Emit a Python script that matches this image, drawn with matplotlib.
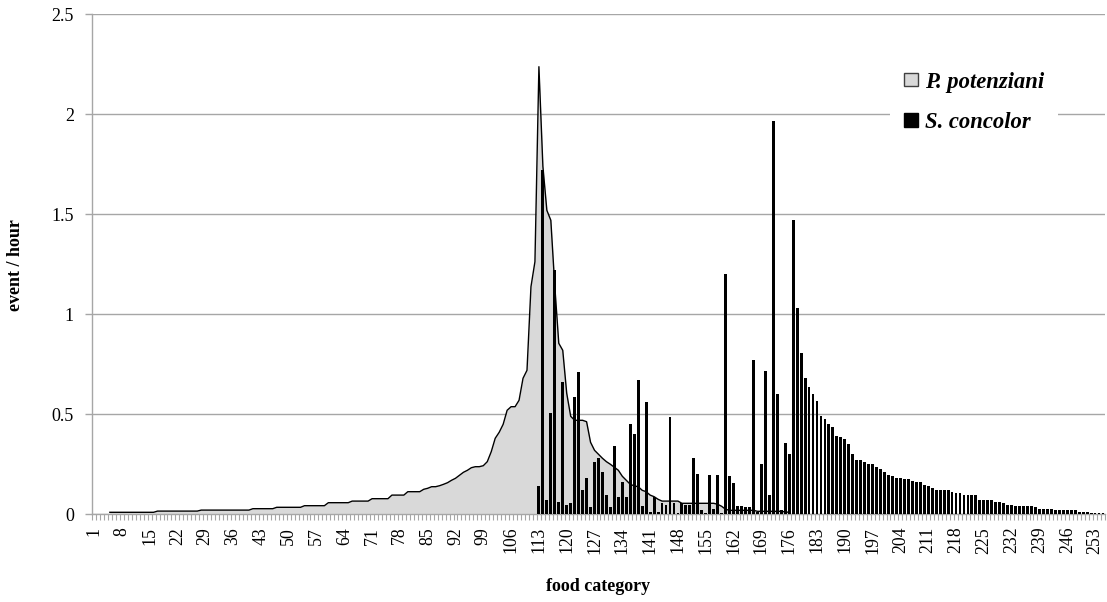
# Gráfico de frequência de consumo por categoria de alimento
# P. potenziani (área) x S. concolor (barras)

import numpy as np
import matplotlib
matplotlib.use('Agg')
import matplotlib.pyplot as plt
from matplotlib.patches import Patch

plt.rcParams['font.family'] = ['Liberation Serif', 'DejaVu Serif']

# Dados
n_categorias = 255
rotulos_x = [1, 8, 15, 22, 29, 36, 43, 50, 57, 64, 71, 78, 85, 92, 99, 106, 113, 120, 127,
             134, 141, 148, 155, 162, 169, 176, 183, 190, 197, 204, 211, 218, 225, 232, 239, 246, 253]
valores_y = [0, 0.5, 1, 1.5, 2, 2.5]

# P. potenziani: começa na categoria 5
inicio_potenziani = 5
potenziani = [
    0.01, 0.01, 0.01, 0.01, 0.01, 0.01, 0.01, 0.01, 0.01, 0.01, 0.01, 0.01,             # 5-16
    0.016, 0.016, 0.016, 0.016, 0.016, 0.016, 0.016, 0.016, 0.016, 0.016, 0.016,        # 17-27
    0.021, 0.021, 0.021, 0.021, 0.021, 0.021, 0.021, 0.021, 0.021, 0.021, 0.021, 0.021, 0.021,  # 28-40
    0.028, 0.028, 0.028, 0.028, 0.028, 0.028,                                            # 41-46
    0.035, 0.035, 0.035, 0.035, 0.035, 0.035, 0.035,                                     # 47-53
    0.043, 0.043, 0.043, 0.043, 0.043, 0.043,                                            # 54-59
    0.058, 0.058, 0.058, 0.058, 0.058, 0.058,                                            # 60-65
    0.066, 0.066, 0.066, 0.066, 0.066,                                                   # 66-70
    0.078, 0.078, 0.078, 0.078, 0.078,                                                   # 71-75
    0.096, 0.096, 0.096, 0.096,                                                          # 76-79
    0.113, 0.113, 0.113, 0.113,                                                          # 80-83
    0.125, 0.13, 0.138, 0.138,                                                           # 84-87
    0.143, 0.15, 0.158, 0.17, 0.18, 0.195, 0.21, 0.22, 0.233, 0.238, 0.238, 0.243,       # 88-99
    0.263, 0.313, 0.38, 0.41, 0.45, 0.52, 0.538, 0.538, 0.57, 0.68, 0.72,                # 100-110
    1.138, 1.263, 2.238, 1.74, 1.52, 1.47, 1.14, 0.855, 0.82, 0.605,                     # 111-120
    0.49, 0.47, 0.47, 0.47, 0.463, 0.36, 0.32, 0.30, 0.28, 0.263,                        # 121-130
    0.25, 0.235, 0.22, 0.19, 0.17, 0.15, 0.142, 0.138, 0.12, 0.113,                      # 131-140
    0.096, 0.088, 0.075, 0.066, 0.066, 0.066, 0.066, 0.066,                              # 141-148
    0.055, 0.055, 0.055, 0.055, 0.055, 0.055, 0.055, 0.055, 0.055,                       # 149-157
    0.05, 0.04, 0.025,                                                                   # 158-160
    0.02, 0.02, 0.02, 0.02, 0.02, 0.02, 0.02,                                            # 161-167
    0.015, 0.015, 0.015, 0.015, 0.015, 0.015, 0.015,                                     # 168-174
    0.012, 0.01,                                                                         # 175-176
]

# S. concolor: começa na categoria 113
inicio_concolor = 113
concolor = [
    0.14, 1.72, 0.07, 0.505, 1.22, 0.063, 0.663, 0.047, 0.055, 0.588,                    # 113-122
    0.713, 0.12, 0.18, 0.038, 0.263, 0.28, 0.21, 0.096, 0.038, 0.34,                     # 123-132
    0.088, 0.163, 0.088, 0.45, 0.40, 0.67, 0.043, 0.563, 0.013, 0.088,                   # 133-142
    0.013, 0.058, 0.047, 0.488, 0.058, 0.008, 0.055, 0.047, 0.047, 0.28,                 # 143-152
    0.20, 0.021, 0.008, 0.196, 0.025, 0.196, 0.008, 1.20, 0.191, 0.155,                  # 153-162
    0.043, 0.04, 0.036, 0.036, 0.77, 0.01, 0.25, 0.716, 0.096, 1.966,                    # 163-172
    0.60, 0.02, 0.358, 0.30, 1.47, 1.03, 0.805, 0.68, 0.638, 0.60,                       # 173-182
    0.565, 0.49, 0.475, 0.45, 0.435, 0.39, 0.385, 0.375, 0.35, 0.30,                     # 183-192
    0.27, 0.27, 0.26, 0.25, 0.25, 0.237, 0.225, 0.21, 0.196, 0.19,                       # 193-202
    0.18, 0.18, 0.175, 0.175, 0.166, 0.16, 0.16, 0.146, 0.141, 0.131,                    # 203-212
    0.121, 0.12, 0.12, 0.12, 0.111, 0.106, 0.106, 0.096, 0.096, 0.096,                   # 213-222
    0.096, 0.071, 0.071, 0.071, 0.071, 0.063, 0.063, 0.055, 0.047, 0.047,                # 223-232
    0.041, 0.041, 0.041, 0.041, 0.041, 0.035, 0.025, 0.025, 0.025, 0.025,                # 233-242
    0.02, 0.02, 0.02, 0.02, 0.02, 0.02, 0.01, 0.01, 0.01, 0.005,                         # 243-252
    0.005, 0.005, 0.005,                                                                 # 253-255
]

x_pot = np.arange(inicio_potenziani, inicio_potenziani + len(potenziani))
x_con = np.arange(inicio_concolor, inicio_concolor + len(concolor))

cinza_grade = '#A6A6A6'
cinza_area = '#D9D9D9'

fig = plt.figure(figsize=(11.07, 6.02), dpi=100)
ax = fig.add_axes([92 / 1107, 1 - 514.3 / 602, 1013 / 1107, 500 / 602])

# área de P. potenziani
ax.fill_between(x_pot, potenziani, 0, color=cinza_area, lw=0, zorder=2)
ax.plot(x_pot, potenziani, color='black', lw=1.0, zorder=3)

# barras de S. concolor
ax.bar(x_con, concolor, width=0.72, color='black', zorder=4)

ax.set_xlim(0.5, n_categorias + 0.5)
ax.set_ylim(0, 2.5)

# grade horizontal
ax.set_yticks(valores_y)
ax.set_yticklabels(['0', '0.5', '1', '1.5', '2', '2.5'])
ax.yaxis.grid(True, color=cinza_grade, lw=1.0, zorder=0)
ax.set_axisbelow(True)

ax.set_xticks(rotulos_x)
ax.set_xticklabels([str(r) for r in rotulos_x], rotation=90)
ax.set_xticks(np.arange(0.5, n_categorias + 1, 1), minor=True)
ax.tick_params(axis='x', which='major', length=0, pad=9, labelsize=12.8)
ax.tick_params(axis='x', which='minor', length=4.5, width=0.8, color=cinza_grade, direction='out')
ax.tick_params(axis='y', which='major', length=5, width=1.0, color=cinza_grade, pad=8, labelsize=13)

for lado in ['top', 'right']:
    ax.spines[lado].set_visible(False)
for lado in ['left', 'bottom']:
    ax.spines[lado].set_color(cinza_grade)
    ax.spines[lado].set_linewidth(1.0)

ax.set_xlabel('food category', fontsize=13, fontweight='bold')
ax.set_ylabel('event / hour', fontsize=13, fontweight='bold')
ax.xaxis.label.set_va('center')
ax.yaxis.label.set_va('center')
ax.xaxis.set_label_coords(0.4995, -0.145)
ax.yaxis.set_label_coords(-0.076, 0.499)

# legenda
itens = [Patch(facecolor=cinza_area, edgecolor='#404040', lw=1.0, label='P. potenziani'),
         Patch(facecolor='black', edgecolor='black', label='S. concolor')]
leg = ax.legend(handles=itens, loc='upper left', bbox_to_anchor=(890 / 1107, 1 - 58 / 602),
                bbox_transform=fig.transFigure, borderaxespad=0, frameon=True, fancybox=False,
                framealpha=1, facecolor='white', edgecolor='none',
                prop={'family': 'Liberation Serif', 'weight': 'bold', 'style': 'italic', 'size': 16.3},
                handlelength=0.65, handleheight=0.55, handletextpad=0.3, labelspacing=0.86,
                borderpad=0.6)
leg.set_zorder(10)

fig.savefig('out.png', dpi=100)
